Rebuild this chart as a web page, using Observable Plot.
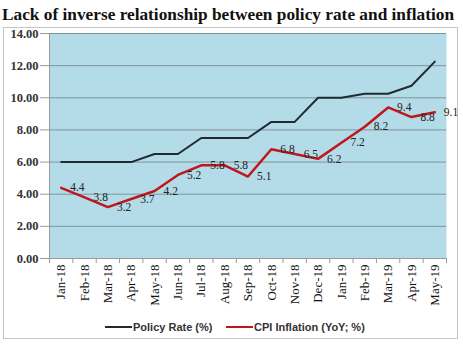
<!DOCTYPE html>
<html>
<head>
<meta charset="utf-8">
<script src="https://cdn.jsdelivr.net/npm/d3@7"></script>
<script src="https://cdn.jsdelivr.net/npm/@observablehq/plot@0.6"></script>
<style>
  html, body { margin: 0; padding: 0; background: #fff; }
  #wrap { position: relative; width: 463px; height: 353px; overflow: hidden; }
  #title { position: absolute; left: 2px; top: 4px; font-family: "Liberation Serif", "Times New Roman", serif; font-weight: bold; font-size: 17.5px; color: #111; white-space: nowrap; transform-origin: 0 0; }
  #frame { position: absolute; left: 3px; top: 27px; width: 455px; height: 312px; border: 1px solid #c4c4c4; box-sizing: border-box; }
  #chart { position: absolute; left: 0; top: 0; }
  #legend { position: absolute; top: 321px; left: 0; width: 463px; font-family: "Liberation Sans Narrow", "Liberation Sans", Arial, sans-serif; font-weight: bold; font-size: 11px; color: #333; }
  .li { position: absolute; display: flex; align-items: center; white-space: nowrap; }
  .sw { display: inline-block; width: 27px; height: 2px; margin-right: 1px; }
</style>
</head>
<body>
<div id="wrap">
  <div id="frame"></div>
  <div id="chart"></div>
  <div id="title">Lack of inverse relationship between policy rate and inflation</div>
  <div id="legend">
    <div class="li" style="left:105px"><span class="sw" style="background:#1f2a33"></span>Policy Rate (%)</div>
    <div class="li" style="left:226px"><span class="sw" style="background:#c0161d"></span>CPI Inflation (YoY; %)</div>
  </div>
</div>
<script>
const months = ["Jan-18","Feb-18","Mar-18","Apr-18","May-18","Jun-18","Jul-18","Aug-18","Sep-18","Oct-18","Nov-18","Dec-18","Jan-19","Feb-19","Mar-19","Apr-19","May-19"];
const policyRate = [6.0,6.0,6.0,6.0,6.5,6.5,7.5,7.5,7.5,8.5,8.5,10.0,10.0,10.25,10.25,10.75,12.25];
const cpiInflation = [4.4,3.8,3.2,3.7,4.2,5.2,5.8,5.8,5.1,6.8,6.5,6.2,7.2,8.2,9.4,8.8,9.1];
const yTicks = [0,2,4,6,8,10,12,14];

const policy = months.map((m,i)=>({i, v: policyRate[i]}));
const cpi = months.map((m,i)=>({i, v: cpiInflation[i]}));

const chart = Plot.plot({
  width: 463,
  height: 353,
  marginTop: 33,
  marginBottom: 95,
  marginLeft: 49,
  marginRight: 17,
  style: {background: "transparent", overflow: "visible"},
  x: {type: "linear", domain: [-0.5, months.length - 0.5]},
  y: {domain: [0, 14]},
  marks: [
    Plot.frame({fill: "#b4dbe8", stroke: null}),
    Plot.gridY(yTicks, {stroke: "#7f949c", strokeOpacity: 1, strokeWidth: 1}),
    Plot.ruleX([-0.5], {stroke: "#9a9a9a"}),
    Plot.ruleY([0], {stroke: "#9a9a9a"}),
    Plot.axisY(yTicks, {tickFormat: d3.format(".2f"), tickSize: 9, tickPadding: 2, stroke: "#9a9a9a", fill: "#333", fontFamily: "Liberation Serif, Times New Roman, serif", fontWeight: "bold", fontSize: 12.5, label: null}),
    Plot.axisX(d3.range(months.length + 1).map(i => i - 0.5), {tickFormat: () => "", tickSize: 5, stroke: "#9a9a9a", label: null}),
    Plot.axisX(d3.range(months.length), {tickFormat: i => months[i], tickSize: 0, tickPadding: 6, tickRotate: -90, fill: "#111", fontFamily: "Liberation Serif, Times New Roman, serif", fontSize: 13, label: null}),
    Plot.line(policy, {x: "i", y: "v", stroke: "#1f2a33", strokeWidth: 2}),
    Plot.line(cpi, {x: "i", y: "v", stroke: "#c0161d", strokeWidth: 2.5}),
    Plot.text(cpi, {x: "i", y: "v", text: d => d.v.toFixed(1), textAnchor: "start", dx: 9, fill: "#222", fontFamily: "Liberation Serif, Times New Roman, serif", fontSize: 11.5})
  ]
});
document.getElementById("chart").appendChild(chart);
const t = document.getElementById("title");
const w = t.getBoundingClientRect().width;
if (w > 0) t.style.transform = `scaleX(${452 / w})`;
</script>
</body>
</html>
